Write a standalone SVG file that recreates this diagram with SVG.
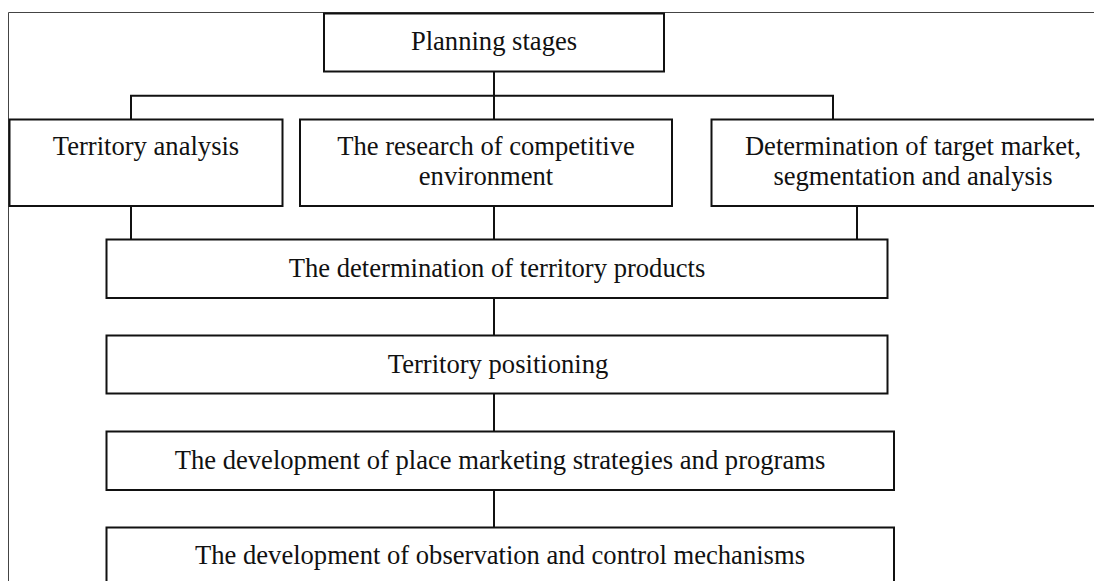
<svg xmlns="http://www.w3.org/2000/svg" width="1094" height="581" viewBox="0 0 1094 581">
<style>
.box{fill:#fff;stroke:#111;stroke-width:2}
.conn{stroke:#111;stroke-width:2;fill:none}
.frame{stroke:#444;stroke-width:1;fill:none}
text{font-family:"Liberation Serif","Times New Roman",serif;font-size:26.6px;fill:#111;text-anchor:middle}
</style>
<rect width="1094" height="581" fill="#fff"/>
<path class="frame" d="M8.5,581 V12.5 H1094"/>
<g id="connectors">
<path class="conn" d="M494,71.5 V119.5"/>
<path class="conn" d="M131,119.5 V95.7 H833 V119.5"/>
<path class="conn" d="M131,206 V239.5"/>
<path class="conn" d="M494,206 V239.5"/>
<path class="conn" d="M857,206 V239.5"/>
<path class="conn" d="M494,298 V335.5"/>
<path class="conn" d="M494,393.5 V431.5"/>
<path class="conn" d="M494,490 V527.5"/>
</g>
<g id="planning">
<rect class="box" x="324" y="13.5" width="340" height="58"/>
<text x="494" y="49.5">Planning stages</text>
</g>
<g id="territory-analysis">
<rect class="box" x="9.5" y="119.5" width="273" height="86.5"/>
<text x="146" y="155">Territory analysis</text>
</g>
<g id="competitive">
<rect class="box" x="300" y="119.5" width="372" height="86.5"/>
<text x="486" y="155">The research of competitive</text>
<text x="486" y="185">environment</text>
</g>
<g id="target-market">
<rect class="box" x="711.5" y="119.5" width="400" height="86.5"/>
<text x="913" y="155">Determination of target market,</text>
<text x="913" y="185">segmentation and analysis</text>
</g>
<g id="products">
<rect class="box" x="106.5" y="239.5" width="781" height="58.5"/>
<text x="497" y="276.5">The determination of territory products</text>
</g>
<g id="positioning">
<rect class="box" x="106.5" y="335.5" width="781" height="58"/>
<text x="498" y="372.7">Territory positioning</text>
</g>
<g id="strategies">
<rect class="box" x="106.5" y="431.5" width="787.5" height="58.5"/>
<text x="500" y="468.5">The development of place marketing strategies and programs</text>
</g>
<g id="observation">
<rect class="box" x="106.5" y="527.5" width="787.5" height="80"/>
<text x="500" y="564">The development of observation and control mechanisms</text>
</g>
</svg>
